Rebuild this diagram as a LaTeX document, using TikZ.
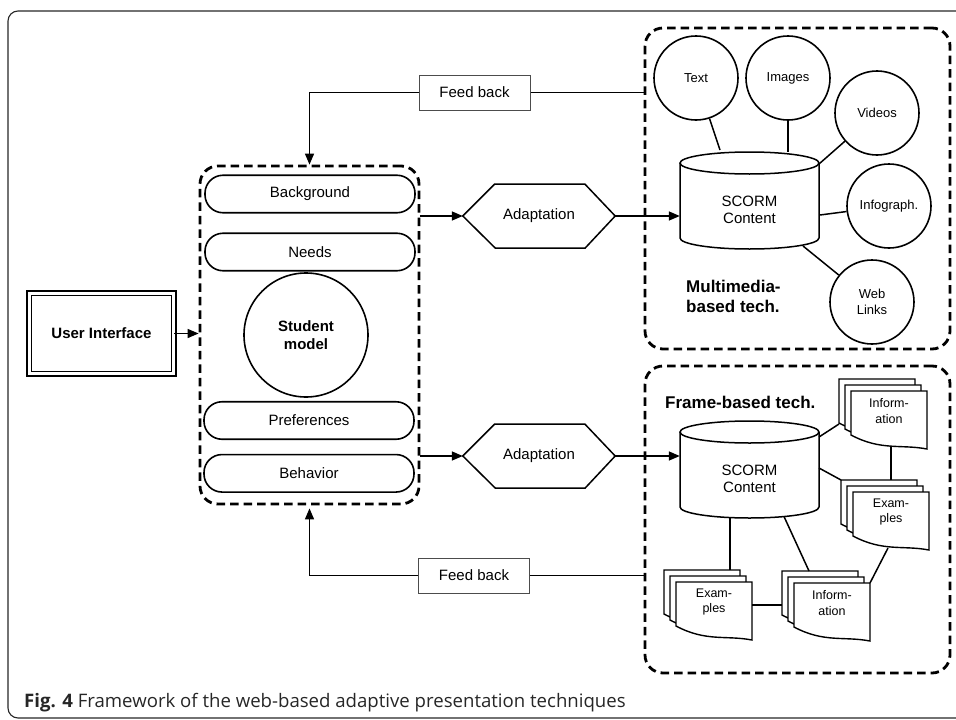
\documentclass[tikz,border=0pt]{standalone}
\usepackage{fontspec}
\setmainfont{Liberation Sans}
\newfontfamily\capfont{Open Sans}
\usetikzlibrary{arrows.meta}
\tikzset{
  ln/.style={line width=1.5pt, black},
  arr/.style={ln, -{Triangle[length=11pt,width=9pt]}},
  dbox/.style={draw, line width=2.8pt, dash pattern=on 8.5pt off 5pt, rounded corners=18pt, inner sep=0pt},
  tA/.style={font=\fontsize{15}{17.5}\selectfont},
  tB/.style={font=\fontsize{13}{15.7}\selectfont},
  tC/.style={font=\fontsize{12.5}{15.7}\selectfont},
  tbold/.style={font=\fontsize{17}{20}\selectfont\bfseries},
  pill/.style={draw, line width=1.6pt, rounded corners=18pt, minimum width=210pt, minimum height=37.5pt, inner sep=0pt, tA},
  med/.style={circle, draw, line width=1.6pt, minimum size=84pt, inner sep=0pt, align=center, tB},
  fbk/.style={draw=black!70, line width=1pt, minimum width=111pt, minimum height=35pt, inner sep=0pt, tA},
  hexa/.style={minimum width=152pt, minimum height=64pt, inner sep=0pt, tA},
  cyl/.style={minimum width=139pt, minimum height=40pt, inner sep=0pt, align=center, tA},
  docpg/.style={draw, fill=white, line width=1.4pt},
  doctext/.style={inner sep=0pt, align=center, tC}
}
\newcommand\DocPage[2]{%
  \draw[docpg] (#1,#2) -- ({#1+76},#2) -- ({#1+76},{#2+58})
    .. controls ({#1+50},{#2+53}) and ({#1+30},{#2+60}) .. (#1,{#2+44}) -- cycle;}
\newcommand\DocStack[4]{%
  \DocPage{#2}{#3}\DocPage{#2+6}{#3+6}\DocPage{#2+12}{#3+12}%
  \node[doctext] (#1) at ({#2+50},{#3+32}) {#4};}
\begin{document}
\begin{tikzpicture}[x=1pt,y=-1pt]
\useasboundingbox (0,0) rectangle (956,720);
% outer frame
\draw[line width=1.1pt, black!85, rounded corners=10pt] (975,11) -- (8,11) -- (8,718) -- (975,718);

% student model group
\node[dbox, minimum width=219pt, minimum height=338pt] (sm) at (309.5,335) {};
\node[pill] (bg) at (310,194) {Background};
\node[pill] (needs) at (310,252) {Needs};
\node[circle, draw, line width=1.6pt, minimum size=124pt, inner sep=0pt, align=center, font=\fontsize{15}{18}\selectfont\bfseries] (stud) at (306,335) {Student\\model};
\node[pill] (pref) at (309,420.5) {Preferences};
\node[pill] (beh) at (309,473.3) {Behavior};

% user interface
\node[draw, double, double distance=3.2pt, line width=1.5pt, minimum width=144.3pt, minimum height=80.3pt, inner sep=0pt, font=\fontsize{15}{17}\selectfont\bfseries] (ui) at (101.5,333.5) {User Interface};
\draw[arr] (ui.east) -- (sm.west |- ui.east);

% multimedia group
\node[dbox, minimum width=305pt, minimum height=321pt] (mm) at (797.5,188.5) {};
\node[med] (txt) at (696,78) {Text};
\node[med] (img) at (788,78) {Images};
\node[med] (vid) at (877,113) {Videos};
\node[med] (inf) at (889,206) {Infograph.};
\node[med] (web) at (872,302) {Web\\Links};
\node[cyl] (cyl1) at (749.5,210) {SCORM\\Content};
\draw[ln] (749.5,163) ellipse [x radius=69.5, y radius=11];
\draw[ln] (680,163) -- (680,238) arc[start angle=180, end angle=0, x radius=69.5, y radius=11] -- (819,163);
\coordinate (c1t) at (720,150);
\coordinate (c1i) at (788,152);
\coordinate (c1v) at (819,164);
\coordinate (c1f) at (820,215);
\coordinate (c1w) at (803,246);
\draw[ln] (txt) -- (c1t);
\draw[ln] (img) -- (c1i);
\draw[ln] (vid) -- (c1v);
\draw[ln] (inf) -- (c1f);
\draw[ln] (web) -- (c1w);
\node[tbold, align=left, anchor=north west, inner sep=0pt] (mmlbl) at (686,280) {Multimedia-\\based tech.};

% adaptation 1
\node[hexa] (ad1) at (539,216) {Adaptation};
\draw[ln] (ad1.west) -- ++(32,-32) -- ++(90,0) -- (ad1.east) -- ++(-30,32) -- ++(-90,0) -- cycle;
\draw[arr] (sm.east |- ad1.west) -- (ad1.west);
\draw[arr] (ad1.east) -- (cyl1.west |- ad1.east);

% feed back 1
\node[fbk] (fb1) at (474.5,92.5) {Feed back};
\draw[arr] (fb1.west) -| (sm.north);
\draw[ln] (fb1.east) -- (mm.west |- fb1.east);

% frame-based group
\node[dbox, minimum width=305pt, minimum height=307pt] (fr) at (797.5,519.5) {};
\node[tbold, anchor=base west, inner sep=0pt] (frlbl) at (665,408) {Frame-based tech.};
\node[cyl] (cyl2) at (749.5,479) {SCORM\\Content};
\draw[ln] (749.5,432) ellipse [x radius=69.5, y radius=11];
\draw[ln] (680,432) -- (680,507) arc[start angle=180, end angle=0, x radius=69.5, y radius=11] -- (819,432);

\DocStack{info1}{839}{379}{Inform-\\ation}
\DocStack{exam1}{841}{480}{Exam-\\ples}
\DocStack{exam2}{664}{570}{Exam-\\ples}
\DocStack{info2}{782}{571}{Inform-\\ation}

\coordinate (c2a) at (819,437);
\coordinate (i1l) at (839,424);
\coordinate (c2b) at (819,468);
\coordinate (e1c) at (841,480);
\coordinate (i1b) at (891,446);
\coordinate (e1t) at (891,480);
\coordinate (c2c) at (730,517.6);
\coordinate (e2t) at (730,570);
\coordinate (c2d) at (784,516.5);
\coordinate (i2t) at (809,571);
\coordinate (e2r) at (752,605);
\coordinate (i2l) at (782,605);
\coordinate (e1b) at (888,548);
\coordinate (i2r) at (870,583);
\draw[ln] (c2a) -- (i1l);
\draw[ln] (c2b) -- (e1c);
\draw[ln] (i1b) -- (e1t);
\draw[ln] (c2c) -- (e2t);
\draw[ln] (c2d) -- (i2t);
\draw[ln] (e2r) -- (i2l);
\draw[ln] (e1b) -- (i2r);

% adaptation 2
\node[hexa] (ad2) at (539,456) {Adaptation};
\draw[ln] (ad2.west) -- ++(32,-32) -- ++(90,0) -- (ad2.east) -- ++(-30,32) -- ++(-90,0) -- cycle;
\draw[arr] (sm.east |- ad2.west) -- (ad2.west);
\draw[arr] (ad2.east) -- (cyl2.west |- ad2.east);

% feed back 2
\node[fbk] (fb2) at (474,575.5) {Feed back};
\draw[arr, shorten >=3pt] (fb2.west) -| (sm.south);
\draw[ln] (fb2.east) -- (fr.west |- fb2.east);

% caption
\node[anchor=base west, inner sep=0pt, font=\capfont\fontsize{18.6}{20}\selectfont, text=black!85] (cap) at (24,707) {\textbf{Fig. 4} Framework of the web-based adaptive presentation techniques};
\end{tikzpicture}
\end{document}
